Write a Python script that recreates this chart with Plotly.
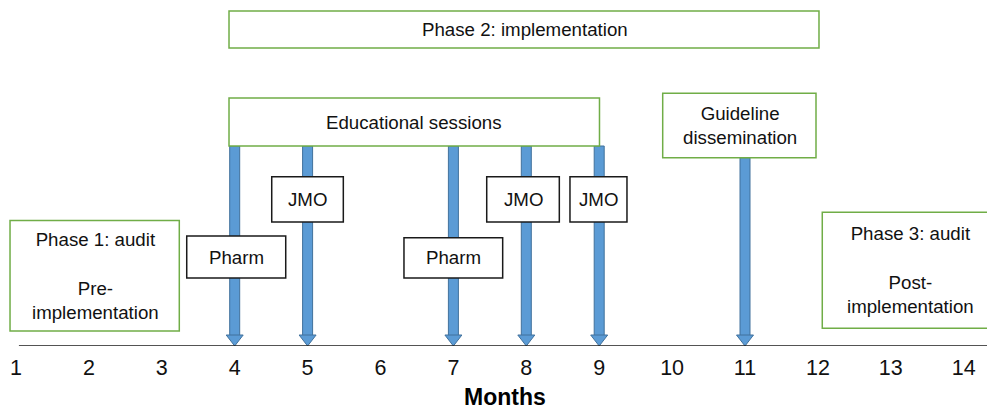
import plotly.graph_objects as go

# ---- data ----
months = list(range(1, 15))
month_labels = [str(m) for m in months]

session_months = [4, 5, 7, 8, 9]
session_labels = ["Pharm", "JMO", "Pharm", "JMO", "JMO"]
guideline_month = 11

# box extents (month units) and vertical extents (pixel-like y units)
phase1_box = dict(x0=0.918, x1=3.24, y0=220.5, y1=331)
phase2_box = dict(x0=3.922, x1=12.015, y0=11, y1=48)
edu_box = dict(x0=3.922, x1=9.004, y0=98, y1=146)
guide_box = dict(x0=9.871, x1=11.974, y0=93.3, y1=157.7)
phase3_box = dict(x0=12.06, x1=14.6, y0=212.3, y1=328.3)

session_boxes = [  # x0, x1 in months, y0, y1
    (3.342, 4.700, 236, 278),
    (4.508, 5.490, 176.7, 222),
    (6.322, 7.676, 237.7, 278),
    (7.457, 8.453, 176.7, 222),
    (8.599, 9.381, 176.7, 222),
]

FONT = "Liberation Sans, Arial, sans-serif"
GREEN = "#70AD47"
BLUE = "#5B9BD5"
BLUE_EDGE = "#41719C"
AXIS_Y = 346

fig = go.Figure()
# invisible trace to establish axes
fig.add_trace(go.Scatter(x=[months[0], months[-1]], y=[AXIS_Y, AXIS_Y], mode="markers",
                         marker=dict(opacity=0), hoverinfo="skip", showlegend=False))

shapes = []
# arrows (drawn first so boxes cover the shaft tops)
arrow_months = session_months + [guideline_month]
arrow_tops = [edu_box["y1"]] * len(session_months) + [guide_box["y1"]]
for m, top in zip(arrow_months, arrow_tops):
    shapes.append(dict(type="rect", xref="x", yref="y", xsizemode="pixel", xanchor=m,
                       x0=-5, x1=5, y0=top, y1=335.5,
                       fillcolor=BLUE, line=dict(color=BLUE_EDGE, width=1), layer="above"))
    shapes.append(dict(type="path", xref="x", yref="y", xsizemode="pixel", xanchor=m,
                       path=f"M-8.5,335 L8.5,335 L0,{AXIS_Y} Z",
                       fillcolor=BLUE, line=dict(color=BLUE_EDGE, width=1), layer="above"))

def box(b, color):
    return dict(type="rect", xref="x", yref="y", x0=b["x0"], x1=b["x1"], y0=b["y0"], y1=b["y1"],
                fillcolor="white", line=dict(color=color, width=1.5), layer="above")

for b in [phase1_box, phase2_box, edu_box, guide_box]:
    shapes.append(box(b, GREEN))
# phase 3 box runs off the right edge: draw its three visible sides only
b3 = phase3_box
shapes.append(dict(type="path", xref="x", yref="y",
                   path=(f"M{b3['x1']},{b3['y0']} L{b3['x0']},{b3['y0']} "
                         f"L{b3['x0']},{b3['y1']} L{b3['x1']},{b3['y1']}"),
                   line=dict(color=GREEN, width=1.5), layer="above"))
for (x0, x1, y0, y1) in session_boxes:
    shapes.append(box(dict(x0=x0, x1=x1, y0=y0, y1=y1), "#1a1a1a"))

# timeline axis line
shapes.append(dict(type="line", xref="x", yref="y", x0=1.04, x1=14.6, y0=AXIS_Y, y1=AXIS_Y,
                   line=dict(color="#1a1a1a", width=1.5), layer="above"))

annotations = []
def txt(x, y, t, size=18.7, **kw):
    annotations.append(dict(x=x, y=y, xref="x", yref="y", text=t, showarrow=False,
                            font=dict(family=FONT, size=size, color="#111111"),
                            xanchor="center", yanchor="middle", **kw))

txt(7.982, 29.5, "Phase 2: implementation")
txt(6.459, 122, "Educational sessions")
txt(10.931, 125.5, "Guideline<br>dissemination")
txt(2.084, 275.5, "Phase 1: audit<br><br>Pre-<br>implementation")
txt(13.277, 269.5, "Phase 3: audit<br><br>Post-<br>implementation")
for (x0, x1, y0, y1), lab in zip(session_boxes, session_labels):
    txt((x0 + x1) / 2, (y0 + y1) / 2, lab)

annotations.append(dict(x=505 / 987, y=(AXIS_Y - 396.5) / AXIS_Y, xref="paper", yref="paper",
                        text="<b>Months</b>", showarrow=False,
                        font=dict(family=FONT, size=23, color="#000000"),
                        xanchor="center", yanchor="middle"))

fig.update_layout(
    width=987, height=406,
    margin=dict(l=0, r=0, t=0, b=60),
    paper_bgcolor="white", plot_bgcolor="white",
    shapes=shapes, annotations=annotations,
    xaxis=dict(range=[1 - 16 / 72.9, 1 + 971 / 72.9], tickvals=months, ticktext=month_labels,
               showgrid=False, zeroline=False, showline=False, ticks="",
               ticklabelstandoff=6,
               tickfont=dict(family=FONT, size=21.5, color="#111111"), fixedrange=True),
    yaxis=dict(range=[AXIS_Y, 0], visible=False, showgrid=False, zeroline=False, fixedrange=True),
    showlegend=False,
)

fig.write_html("out.html", config={"displayModeBar": False},
               post_script="document.body.style.margin='0';document.body.style.padding='0';")
